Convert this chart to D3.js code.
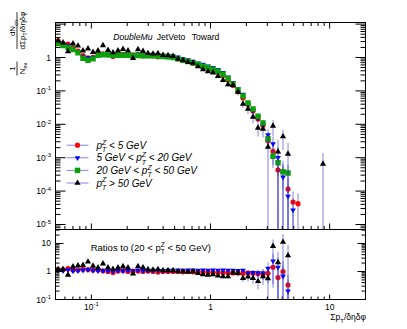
<!DOCTYPE html>
<html><head><meta charset="utf-8">
<script src="https://cdn.jsdelivr.net/npm/d3@7"></script>
<style>
html,body{margin:0;padding:0;background:#fff;}
svg{display:block;font-family:"Liberation Sans",Arial,Helvetica,sans-serif;}
text{white-space:pre;}
</style></head><body>
<svg id="c" width="407" height="329"></svg>
<script>
// ---------------- data ----------------
const xBins = [0.0525,0.0578,0.0637,0.0701,0.0772,0.0851,0.0937,0.1032,0.1137,0.1252,0.1379,0.1519,0.1673,0.1843,0.2030,0.2236,0.2463,0.2713,0.2988,0.3291,0.3625,0.3993,0.4398,0.4845,0.5336,0.5877,0.6474,0.7131,0.7855,0.8652,0.9530,1.0497,1.1562,1.2735,1.4027,1.5451,1.7019,1.8746,2.0648,2.2743,2.5051,2.7593,3.0392,3.3476,3.6873,4.0614,4.4735,4.9274,5.4273,5.978,6.585,7.253,7.989,8.80];

// pT^Z < 5 GeV
const valLow = [3.16,2.63,2.52,1.95,1.55,1.15,0.97,1.02,1.35,1.28,1.2,1.07,1.22,1.25,1.17,1.2,1.2,1.12,1.17,1.12,1.05,1.07,1.06,1.0,0.91,0.81,0.76,0.67,0.617,0.525,0.477,0.417,0.364,0.288,0.213,0.144,0.095,0.0617,0.039,0.025,0.0145,0.0092,0.0032,0.00155,0.00043,0.00038,0.000115,0.000047,0.000042];
const errLow = [0.03,0.03,0.03,0.03,0.03,0.03,0.03,0.03,0.03,0.03,0.03,0.03,0.03,0.03,0.03,0.03,0.03,0.03,0.03,0.03,0.03,0.03,0.03,0.03,0.03,0.03,0.03,0.03,0.03,0.03,0.03,0.035,0.04,0.045,0.05,0.06,0.08,0.1,0.12,0.15,0.2,0.3,0.45,0.6,1.1,1.1,1.1,1.05,1.05];
// 5 GeV < pT^Z < 20 GeV
const valMid = [2.95,2.45,2.3,1.83,1.48,1.07,0.97,1.0,1.23,1.28,1.26,1.17,1.25,1.23,1.25,1.21,1.26,1.2,1.18,1.23,1.18,1.14,1.15,1.1,1.02,0.91,0.85,0.77,0.68,0.62,0.55,0.50,0.43,0.354,0.257,0.178,0.114,0.078,0.038,0.0262,0.0155,0.0096,0.0048,0.0026,0.001,0.00026,0.00007,0.000027];
const errMid = [0.03,0.03,0.03,0.03,0.03,0.03,0.03,0.03,0.03,0.03,0.03,0.03,0.03,0.03,0.03,0.03,0.03,0.03,0.03,0.03,0.03,0.03,0.03,0.03,0.03,0.03,0.03,0.03,0.03,0.03,0.03,0.03,0.035,0.04,0.05,0.06,0.08,0.1,0.15,0.2,0.25,0.35,0.5,0.65,1.1,1.2,1.2,1.2];
// 20 GeV < pT^Z < 50 GeV (reference for ratios)
const valRef = [2.63,2.29,2.0,1.74,1.38,0.955,0.83,0.91,1.17,1.2,1.2,1.17,1.17,1.17,1.17,1.15,1.15,1.12,1.12,1.12,1.10,1.07,1.05,1.0,0.91,0.83,0.76,0.69,0.617,0.55,0.50,0.447,0.39,0.316,0.234,0.162,0.107,0.0708,0.0437,0.0288,0.0174,0.011,0.0037,0.0011,0.00071,0.00038,0.00035];
const errRef = [0.025,0.025,0.025,0.025,0.025,0.025,0.025,0.025,0.025,0.025,0.025,0.025,0.025,0.025,0.025,0.025,0.025,0.025,0.025,0.025,0.025,0.025,0.025,0.025,0.025,0.025,0.025,0.025,0.025,0.025,0.025,0.025,0.03,0.03,0.04,0.05,0.07,0.09,0.11,0.14,0.18,0.22,0.35,0.55,0.6,0.7,0.75];
// pT^Z > 50 GeV
const valHigh = [3.16,2.8,1.52,2.6,2.24,1.6,1.85,1.45,1.6,2.3,1.66,1.41,1.61,1.77,1.61,0.955,1.74,1.55,1.34,1.29,1.32,1.17,1.15,1.1,0.91,0.83,0.726,0.69,0.537,0.436,0.38,0.353,0.277,0.209,0.155,0.148,0.093,0.0407,0.0288,0.0166,0.0078,0.0073,0.0021,0.0089,0.0015,0.0043,0.0013,null,null,null,null,null,null,0.00065];
const errHigh = [0.08,0.08,0.08,0.08,0.08,0.08,0.08,0.08,0.08,0.08,0.08,0.08,0.08,0.08,0.08,0.08,0.08,0.08,0.08,0.08,0.08,0.08,0.08,0.08,0.08,0.08,0.08,0.08,0.08,0.08,0.08,0.1,0.12,0.14,0.16,0.18,0.2,0.25,0.3,0.35,0.45,0.45,1.2,0.5,1.25,0.6,1.15,null,null,null,null,null,null,1.1];

const legendLabels = [
  ["p",{sup:"Z",sub:"T"}," < 5 GeV"],
  ["5 GeV < p",{sup:"Z",sub:"T"}," < 20 GeV"],
  ["20 GeV < p",{sup:"Z",sub:"T"}," < 50 GeV"],
  ["p",{sup:"Z",sub:"T"}," > 50 GeV"]
];
const titleWords = ["DoubleMu","JetVeto","Toward"];
const ratioLabel = ["Ratios to (20 < p",{sup:"Z",sub:"T"}," < 50 GeV)"];

// ---------------- layout ----------------
const L=55.5,R=365.5,T1=22.5,B1=229.5,B2=299.5;
const svg = d3.select("#c");
const x = d3.scaleLog().domain([0.05,20]).range([L,R]);
const y = d3.scaleLog().domain([7.08e-6,11.17]).range([B1,T1]);
const yr = d3.scaleLog().domain([0.1,31.62]).range([B2,B1]);

const ERR = "rgba(50,50,205,0.6)";
const series = [
  {vals:valLow, errs:errLow, color:"#ff0000", sym:d3.symbolCircle, size:21, rot:0},
  {vals:valMid, errs:errMid, color:"#0000ff", sym:d3.symbolTriangle, size:14, rot:180},
  {vals:valRef, errs:errRef, color:"#0aa00a", sym:d3.symbolSquare, size:30, rot:0},
  {vals:valHigh, errs:errHigh, color:"#000000", sym:d3.symbolTriangle, size:17, rot:0}
];

function rich(parent, px, py, parts, o){
  const g = parent.append("g");
  const fs=o.size, ss=fs*0.7;
  let cx=0;
  const mk=(tx,yy,sz)=>{const t=g.append("text").attr("x",cx).attr("y",yy).attr("font-size",sz)
      .attr("font-style",o.italic?"italic":"normal").attr("fill",o.fill||"#000").text(tx);return t;};
  parts.forEach(p=>{
    if(typeof p==="string"){const t=mk(p,0,fs);cx+=t.node().getComputedTextLength();}
    else{let w=0;
      if(p.sup!=null){const t=mk(p.sup,-fs*0.42,ss);w=Math.max(w,t.node().getComputedTextLength());}
      if(p.sub!=null){const t=mk(p.sub,fs*0.32,ss);w=Math.max(w,t.node().getComputedTextLength());}
      cx+=w;}
  });
  let dx=0; if(o.anchor==="end")dx=-cx; else if(o.anchor==="middle")dx=-cx/2;
  g.attr("transform",`translate(${px+dx},${py})`);
  return g;
}

const defs=svg.append("defs");
defs.append("clipPath").attr("id","cp1").append("rect").attr("x",L).attr("y",T1).attr("width",R-L).attr("height",B1-T1);
defs.append("clipPath").attr("id","cp2").append("rect").attr("x",L).attr("y",B1).attr("width",R-L).attr("height",B2-B1);

function logTicks(dom){const maj=[],min=[];for(let e=-7;e<=3;e++)for(let m=1;m<=9;m++){const v=+(m*Math.pow(10,e)).toPrecision(6);if(v>=dom[0]*0.9999&&v<=dom[1]*1.0001)(m===1?maj:min).push(v);}return {maj,min};}
function axis(gen,scale,vals,size,tr){
  svg.append("g").attr("transform",tr)
    .call(gen(scale).tickValues(vals).tickSizeInner(size).tickSizeOuter(0).tickFormat("").offset(0))
    .call(g=>{g.select(".domain").remove();g.selectAll("line").attr("stroke","#000").attr("stroke-width",1);});
}

// ---------- marks ----------
function drawSet(g, pts, s, sc){
  g.append("g").selectAll("line").data(pts).join("line")
    .attr("x1",d=>x(d.x)).attr("x2",d=>x(d.x))
    .attr("y1",d=>sc(d.hi)).attr("y2",d=>sc(d.lo>0?d.lo:sc.domain()[0]*0.3))
    .attr("stroke",ERR).attr("stroke-width",1);
  g.append("g").selectAll("path").data(pts).join("path")
    .attr("d",d3.symbol().type(s.sym).size(s.size))
    .attr("transform",d=>`translate(${x(d.x)},${sc(d.v)}) rotate(${s.rot})`)
    .attr("fill",s.color);
}
const gTop=svg.append("g").attr("clip-path","url(#cp1)");
series.forEach(s=>{
  const pts=[];
  s.vals.forEach((v,i)=>{if(v!=null){const e=s.errs[i]*v;pts.push({x:xBins[i],v,hi:v+e,lo:v-e});}});
  drawSet(gTop,pts,s,y);
});
const gBot=svg.append("g").attr("clip-path","url(#cp2)");
[0,1,3].forEach(k=>{
  const s=series[k];const pts=[];
  s.vals.forEach((v,i)=>{const g=valRef[i];if(v!=null&&g!=null){const r=v/g;const re=Math.sqrt(s.errs[i]**2+errRef[i]**2)*r;pts.push({x:xBins[i],v:r,hi:r+re,lo:r-re});}});
  drawSet(gBot,pts,s,yr);
});

// ---------- axes ----------
const xt=logTicks(x.domain()), yt=logTicks(y.domain()), yrt=logTicks(yr.domain());
axis(d3.axisLeft,y,yt.maj,-10,`translate(${L},0)`);
axis(d3.axisLeft,y,yt.min,-5,`translate(${L},0)`);
axis(d3.axisRight,y,yt.maj,-10,`translate(${R},0)`);
axis(d3.axisRight,y,yt.min,-5,`translate(${R},0)`);
axis(d3.axisBottom,x,xt.maj,-6,`translate(0,${B1})`);
axis(d3.axisBottom,x,xt.min,-3.5,`translate(0,${B1})`);
axis(d3.axisTop,x,xt.maj,-6,`translate(0,${T1})`);
axis(d3.axisTop,x,xt.min,-3.5,`translate(0,${T1})`);
axis(d3.axisLeft,yr,yrt.maj,-8,`translate(${L},0)`);
axis(d3.axisLeft,yr,yrt.min,-4,`translate(${L},0)`);
axis(d3.axisRight,yr,yrt.maj,-8,`translate(${R},0)`);
axis(d3.axisRight,yr,yrt.min,-4,`translate(${R},0)`);
axis(d3.axisBottom,x,xt.maj,-5,`translate(0,${B2})`);
axis(d3.axisBottom,x,xt.min,-3,`translate(0,${B2})`);

svg.append("rect").attr("x",L).attr("y",T1).attr("width",R-L).attr("height",B1-T1).attr("fill","none").attr("stroke","#000");
svg.append("rect").attr("x",L).attr("y",B1).attr("width",R-L).attr("height",B2-B1).attr("fill","none").attr("stroke","#000");

function powParts(v){const e=Math.round(Math.log10(v));if(e===0)return ["1"];if(e===1)return ["10"];return ["10",{sup:String(e)}];}
yt.maj.filter(v=>v<=1.001).forEach(v=>rich(svg,51,y(v)+3,powParts(v),{size:8.5,anchor:"end"}));
yrt.maj.forEach(v=>rich(svg,51,yr(v)+3,powParts(v),{size:8.5,anchor:"end"}));
xt.maj.forEach(v=>rich(svg,x(v),310,powParts(v),{size:8.5,anchor:"middle"}));

// x title
rich(svg,366,320,["Σp",{sub:"T"},"/δηδφ"],{size:8.5,anchor:"end"});

// y title (rotated)
const yt1=svg.append("g").attr("transform","translate(17,80) rotate(-90)");
rich(yt1,11.5,-1.8,["1"],{size:8,anchor:"middle"});
rich(yt1,11.5,7.8,["N",{sub:"ev"}],{size:8,anchor:"middle"});
yt1.append("line").attr("x1",4.5).attr("x2",18.5).attr("y1",0).attr("y2",0).attr("stroke","#000").attr("stroke-width",0.8);
rich(yt1,52,-1.8,["dN",{sub:"ch"}],{size:8,anchor:"middle"});
rich(yt1,49.5,7.8,["dΣp",{sub:"T"},"/δηδφ"],{size:8,anchor:"middle"});
yt1.append("line").attr("x1",31).attr("x2",68).attr("y1",0).attr("y2",0).attr("stroke","#000").attr("stroke-width",0.8);

// title
const tx=[113.3,156.7,191.7];
titleWords.forEach((w,i)=>svg.append("text").attr("x",tx[i]).attr("y",40).attr("font-size",8.6)
  .attr("font-style",i===0?"italic":"normal").text(w));

// ratio label
rich(svg,90.7,251,ratioLabel,{size:9.5});

// legend
const ly=[145.2,157.8,170.4,183.0];
series.forEach((s,i)=>{
  svg.append("line").attr("x1",66.5).attr("x2",88.5).attr("y1",ly[i]).attr("y2",ly[i]).attr("stroke",ERR);
  svg.append("path").attr("d",d3.symbol().type(s.sym).size(s.size)).attr("transform",`translate(77.5,${ly[i]}) rotate(${s.rot})`).attr("fill",s.color);
  rich(svg,96.5,ly[i]+3.6,legendLabels[i],{size:10,italic:true});
});
</script>
</body></html>
